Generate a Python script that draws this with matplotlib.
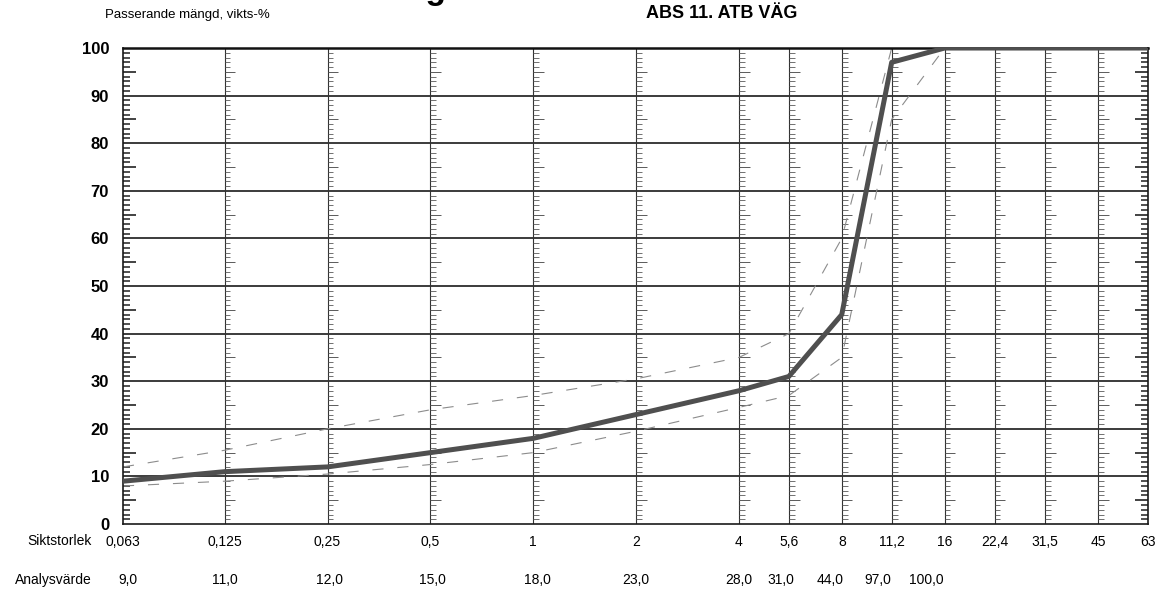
import numpy as np
import matplotlib
matplotlib.use("Agg")
import matplotlib.pyplot as plt
import matplotlib.transforms as mtransforms

plt.rcParams["font.family"] = ["Liberation Sans Narrow", "Liberation Sans", "DejaVu Sans"]
plt.rcParams["lines.scale_dashes"] = False

# Siktstorlek (mm) och passerande mangd (vikts-%)
sikt = [0.063, 0.125, 0.25, 0.5, 1, 2, 4, 5.6, 8, 11.2, 16, 22.4, 31.5, 45, 63]
sikt_etiketter = ["0,063", "0,125", "0,25", "0,5", "1", "2", "4", "5,6", "8",
                  "11,2", "16", "22,4", "31,5", "45", "63"]
passerande = [9, 11, 12, 15, 18, 23, 28, 31, 44, 97, 100, 100, 100, 100, 100]
analysvarden = ["9,0", "11,0", "12,0", "15,0", "18,0", "23,0", "28,0", "31,0",
                "44,0", "97,0", "100,0"]

# Granskurvor (streckade)
grans_sikt = [0.063, 0.125, 0.25, 0.5, 1, 2, 4, 5.6, 8, 11.2, 16]
ovre_grans = [12, 15.5, 20, 24, 27, 30.5, 35, 40, 60, 100, 100]
undre_grans = [8, 9, 10.5, 12.5, 15, 19.5, 24.5, 27, 35, 85, 100]

# tabellraden med analysvarden ligger lite forskjuten (pixlar)
analys_forskjutning = [5, 0, 2, 2, 4, 0, 0, -8, -12, -14, -18]

fig = plt.figure(figsize=(11.57, 5.93), dpi=100)
ax = fig.add_axes([0.1063, 0.1163, 0.8859, 0.8027])

ax.set_xscale("log")
ax.set_xlim(0.063, 63)
ax.set_ylim(0, 100)

# rutnat
for y in range(10, 100, 10):
    ax.axhline(y, color="#1a1a1a", lw=1.2, zorder=1)
for x in sikt[1:-1]:
    ax.axvline(x, color="#333333", lw=0.8, zorder=1)

# linjalstreck pa varje lodrat linje
ys_min = [y for y in range(1, 100) if y % 5 != 0]
ys_fem = [y for y in range(5, 100, 10)]
for i, x in enumerate(sikt):
    if i == len(sikt) - 1:
        ax.hlines(ys_min, x / 1.05, x, color="#222222", lw=1.1, zorder=1)
        ax.hlines(ys_fem, x / 1.09, x, color="#222222", lw=1.2, zorder=1)
    elif i == 0:
        ax.hlines(ys_min, x, x * 1.05, color="#222222", lw=1.1, zorder=1)
        ax.hlines(ys_fem, x, x * 1.09, color="#222222", lw=1.2, zorder=1)
    else:
        ax.hlines(ys_min, x, x * 1.04, color="#5a5a5a", lw=0.6, zorder=1)
        ax.hlines(ys_fem, x, x * 1.075, color="#5a5a5a", lw=0.7, zorder=1)

# gransarna
ax.plot(grans_sikt, ovre_grans, color="#8c8c8c", lw=0.8, dashes=(8, 10), zorder=2)
ax.plot(grans_sikt, undre_grans, color="#8c8c8c", lw=0.8, dashes=(8, 10), zorder=2)

# analyskurva
ax.plot(sikt, passerande, color="#4f4f4f", lw=3.6, solid_joinstyle="round",
        solid_capstyle="butt", zorder=3)

for side in ["left", "right", "bottom"]:
    ax.spines[side].set_color("#1a1a1a")
    ax.spines[side].set_linewidth(1.2)
ax.spines["top"].set_color("#111111")
ax.spines["top"].set_linewidth(1.8)

ax.set_yticks(range(0, 101, 10))
ax.set_yticklabels([str(v) for v in range(0, 101, 10)], fontsize=12,
                   fontweight="bold", family=["Liberation Sans", "DejaVu Sans"])
ax.tick_params(axis="y", length=0, pad=10)
ax.yaxis.set_minor_locator(matplotlib.ticker.NullLocator())

ax.set_xticks(sikt)
ax.set_xticklabels(sikt_etiketter, fontsize=10)
ax.xaxis.set_minor_locator(matplotlib.ticker.NullLocator())
ax.tick_params(axis="x", length=0, pad=8)

# analysvarden under axeln
trans = mtransforms.blended_transform_factory(ax.transData, ax.transAxes)
for x, txt, dx in zip(sikt, analysvarden, analys_forskjutning):
    t = mtransforms.offset_copy(trans, fig=fig, x=dx, y=0, units="dots")
    ax.text(x, -0.118, txt, transform=t, ha="center", va="center", fontsize=10)

fig.text(0.079, 1 - 541 / 593, "Siktstorlek", ha="right", va="center", fontsize=10)
fig.text(0.079, 1 - 580 / 593, "Analysvärde", ha="right", va="center", fontsize=10)

fig.text(0.091, 1 - 15 / 593, "Passerande mängd, vikts-%", ha="left", va="center",
         fontsize=9.5)
fig.text(0.624, 1 - 13 / 593, "ABS 11. ATB VÄG", ha="center", va="center",
         fontsize=13, fontweight="bold", family=["Liberation Sans", "DejaVu Sans"])

# avskuren rubrik overst till vanster
fig.text(0.386, 1 + 1 / 593, "Kornstorleksfördelning", ha="right", va="baseline",
         fontsize=24, fontweight="bold", family=["Liberation Sans", "DejaVu Sans"])

fig.savefig("out.png", dpi=100)
